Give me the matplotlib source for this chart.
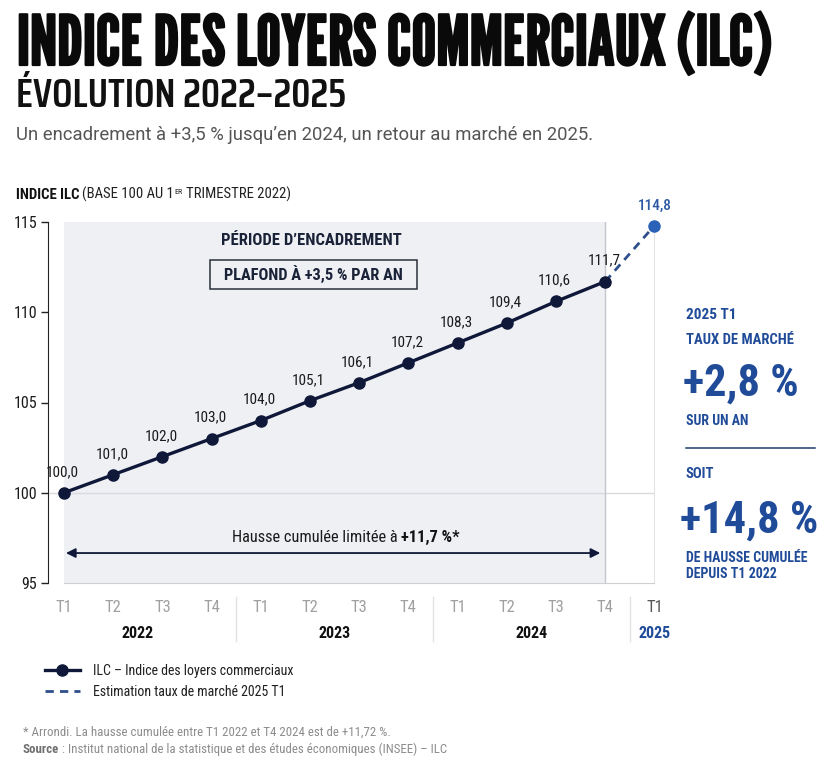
import matplotlib
matplotlib.use("Agg")
import matplotlib.pyplot as plt
import matplotlib.transforms as mtransforms
import matplotlib.patheffects as pe
from matplotlib.lines import Line2D
from matplotlib.patches import Rectangle

# ---- data -------------------------------------------------------------
quarters = ["T1", "T2", "T3", "T4"] * 3 + ["T1"]
years = ["2022", "2023", "2024", "2025"]
ilc = [100.0, 101.0, 102.0, 103.0, 104.0, 105.1, 106.1, 107.2,
       108.3, 109.4, 110.6, 111.7]
estimate_2025 = 114.8
yticks = [95, 100, 105, 110, 115]

# ---- styles -----------------------------------------------------------
COND = ["Roboto Condensed", "DejaVu Sans"]
TITLE = ["League Gothic", "Saira ExtraCondensed", "Roboto Condensed", "DejaVu Sans"]
SUB = ["Saira Condensed", "Roboto Condensed", "DejaVu Sans"]
NAVY = "#0f1838"
BLUE = "#1f4b98"
EST = "#2a62b8"
GREY = "#8c8c8c"
SHADE = "#eef0f4"

W, H = 833, 768
fig = plt.figure(figsize=(W / 100, H / 100), dpi=100)
fig.patch.set_facecolor("white")
PX = mtransforms.Affine2D().scale(1 / W, -1 / H).translate(0, 1) + fig.transFigure


def ftext(x, y, s, **kw):
    kw.setdefault("family", COND)
    return fig.text(x, y, s, transform=PX, **kw)


def fit_width(t, target):
    # rescale a text so that it spans `target` pixels
    r = fig.canvas.get_renderer()
    w = t.get_window_extent(r).width
    t.set_fontsize(t.get_fontsize() * target / w)


def chain(x, y, parts):
    """place a row of text pieces one after another (pixel coords)"""
    r = fig.canvas.get_renderer()
    for s, kw in parts:
        kw = dict(kw)
        gap = kw.pop("gap", 0)
        yy = kw.pop("yy", y)
        t = ftext(x, yy, s, va="baseline", ha="left", **kw)
        x = t.get_window_extent(r).x1 + gap


# ---- header -----------------------------------------------------------
title = ftext(17, 65, "INDICE DES LOYERS COMMERCIAUX (ILC)", fontsize=50,
              family=TITLE, color="#0a0a0a", va="baseline",
              path_effects=[pe.withStroke(linewidth=1.6, foreground="#0a0a0a")])
subtitle = ftext(16, 107, "ÉVOLUTION 2022–2025", fontsize=27, family=SUB,
                 fontweight=600, color="#111111", va="baseline")
ftext(16, 140, "Un encadrement à +3,5 % jusqu’en 2024, un retour au marché en 2025.",
      fontsize=13.3, family=["Roboto", "DejaVu Sans"], color="#555555", va="baseline")

# ---- main axes --------------------------------------------------------
step = 49.2
x0_px, y_top, y_bot = 64, 222, 583
left_px = 48
right_px = x0_px + 12 * step
ax = fig.add_axes([left_px / W, 1 - y_bot / H, (right_px - left_px) / W,
                   (y_bot - y_top) / H])
ax.set_xlim(-(x0_px - left_px) / step, 12)
ax.set_ylim(95, 115)
ax.set_facecolor("white")

x = list(range(len(ilc)))
ax.axvspan(0, 11, color=SHADE, zorder=0, lw=0)
ax.axhline(100, color="#d9dbe0", lw=1, zorder=1)
ax.axvline(11, color="#c4c6cc", lw=1, zorder=1)

ax.plot(x, ilc, color=NAVY, lw=2.4, marker="o", ms=8, mfc=NAVY, mec=NAVY,
        zorder=4, solid_capstyle="round")
ax.plot([x[-1], 12], [ilc[-1], estimate_2025], color="#2f4f8c", lw=2,
        ls=(0, (3, 2.2)), zorder=3)
ax.plot([12], [estimate_2025], "o", color=EST, ms=8, zorder=5, clip_on=False)

for xi, v in zip(x, ilc):
    ax.annotate(f"{v:.1f}".replace(".", ","), (xi, v), xytext=(-1, 15),
                textcoords="offset points", ha="center", va="center",
                fontsize=11, family=COND, color="#1b1b1b", zorder=6)
ax.annotate(f"{estimate_2025:.1f}".replace(".", ","), (12, estimate_2025),
            xytext=(0, 14), textcoords="offset points", ha="center", va="center",
            fontsize=11, family=COND, color="#2d5aa3", fontweight="medium",
            annotation_clip=False)

# period box
ax.text(5.02, 113.95, "PÉRIODE D’ENCADREMENT", ha="center", va="center",
        fontsize=12, fontweight="bold", family=COND, color="#1a2238")
ax.add_patch(Rectangle((2.97, 111.3), 4.2, 1.6, fill=False, ec="#2a2f3a",
                       lw=1.1, zorder=2))
ax.text(5.06, 112.1, "PLAFOND À +3,5 % PAR AN", ha="center", va="center",
        fontsize=11.8, fontweight="bold", family=COND, color="#1a2238")

# cumulative arrow
ax.annotate("", xy=(10.9, 96.66), xytext=(0.04, 96.66),
            arrowprops=dict(arrowstyle="<|-|>", color=NAVY, lw=1.3,
                            mutation_scale=14, shrinkA=0, shrinkB=0))

# axes styling
ax.spines["top"].set_visible(False)
ax.spines["right"].set_color("#e4e4e4")
ax.spines["bottom"].set_color("#cfcfcf")
ax.spines["bottom"].set_bounds(0, 12)
ax.spines["left"].set_color("#222222")
ax.set_yticks(yticks)
ax.set_yticklabels([str(v) for v in yticks], family=COND, fontsize=11.5,
                   color="#1b1b1b")
ax.tick_params(axis="y", length=5, width=1, color="#222222", pad=3)
ax.set_xticks(range(13))
ax.set_xticklabels(quarters, family=COND, fontsize=12, color="#a0a0a0")
ax.get_xticklabels()[-1].set_color("#555555")
ax.tick_params(axis="x", length=0, pad=12)

bx = ax.get_xaxis_transform()
for sx in (3.5, 7.5, 11.5):
    ax.plot([sx, sx], [-0.04, -0.16], transform=bx, color="#e2e2e2", lw=1,
            clip_on=False)
for xc, yr in zip((1.5, 5.5, 9.5, 12), years):
    ax.text(xc, -0.139, yr, transform=bx, ha="center", va="center",
            fontsize=11.5, fontweight="bold", family=COND,
            color=BLUE if yr == "2025" else "#111111")

# ---- right panel ------------------------------------------------------
rx = 686
ftext(rx, 319, "2025 T1", fontsize=11, fontweight="bold", color=BLUE, va="baseline")
ftext(rx, 344, "TAUX DE MARCHÉ", fontsize=10.5, fontweight="bold", color=BLUE, va="baseline")
ftext(rx - 3, 396, "+2,8 %", fontsize=32, fontweight="bold", color=BLUE, va="baseline")
ftext(rx, 425, "SUR UN AN", fontsize=10, fontweight="bold", color=BLUE, va="baseline")
fig.add_artist(Line2D([rx, 815], [448, 448], transform=PX, color="#1e3a70", lw=1.1))
ftext(rx, 478, "SOIT", fontsize=10.5, fontweight="bold", color=BLUE, va="baseline")
ftext(rx - 6, 533, "+14,8 %", fontsize=32, fontweight="bold", color=BLUE, va="baseline")
ftext(rx, 562, "DE HAUSSE CUMULÉE", fontsize=10, fontweight="bold", color=BLUE, va="baseline")
ftext(rx, 578, "DEPUIS T1 2022", fontsize=10, fontweight="bold", color=BLUE, va="baseline")

# ---- legend -----------------------------------------------------------
handles = [Line2D([], [], color=NAVY, lw=2.4, marker="o", ms=8),
           Line2D([], [], color="#2f4f8c", lw=2, ls=(0, (3, 2.2)))]
labels = ["ILC – Indice des loyers commerciaux", "Estimation taux de marché 2025 T1"]
leg = fig.legend(handles, labels, loc="upper left",
                 bbox_to_anchor=(45 / W, 1 - 664 / H), frameon=False,
                 borderpad=0, borderaxespad=0, handlelength=2.5,
                 handletextpad=0.95, labelspacing=0.5,
                 prop=dict(family=COND, size=10))
for t in leg.get_texts():
    t.set_color("#1f1f1f")

# ---- footnotes --------------------------------------------------------
ftext(23, 736, "* Arrondi. La hausse cumulée entre T1 2022 et T4 2024 est de +11,72 %.",
      fontsize=9.3, color=GREY, va="baseline")

# ---- fitted titles and mixed-weight text rows -------------------------
fig.canvas.draw()
fit_width(title, 754)
fit_width(subtitle, 330)
chain(16, 199, [("INDICE ILC", dict(fontsize=10.6, fontweight="bold", color="#111111", gap=3)),
                ("(BASE 100 AU 1", dict(fontsize=10.6, color="#222222", gap=0.5)),
                ("ER", dict(fontsize=5.8, color="#222222", gap=3, yy=194)),
                ("TRIMESTRE 2022)", dict(fontsize=10.6, color="#222222"))])
chain(232, 542, [("Hausse cumulée limitée à", dict(fontsize=11.8, color="#1b1b1b", gap=3.5)),
                 ("+11,7 %*", dict(fontsize=11.8, fontweight="bold", color="#111111"))])
chain(23, 753, [("Source", dict(fontsize=9.3, fontweight="bold", color="#6f6f6f", gap=2.5)),
                (": Institut national de la statistique et des études économiques (INSEE) – ILC",
                 dict(fontsize=9.3, color=GREY))])

fig.savefig("out.png", dpi=100)
